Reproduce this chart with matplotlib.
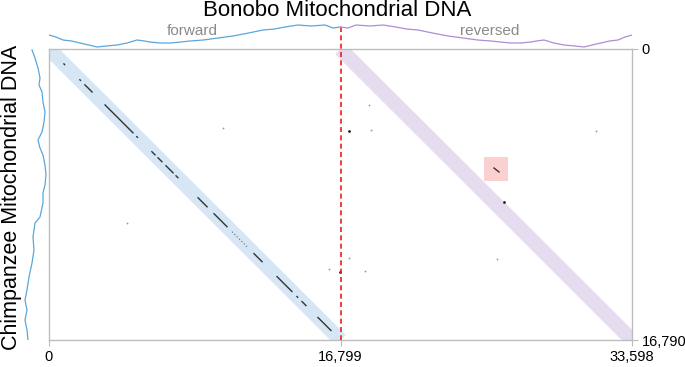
import matplotlib.pyplot as plt
from matplotlib.patches import Rectangle

plt.rcParams['font.family'] = ['Liberation Sans', 'DejaVu Sans']

bonobo_len = 33598
fwd_end = 16799
chimp_len = 16790

x_ticks = [0, 16799, 33598]
x_ticklabels = ["0", "16,799", "33,598"]
y_ticks = [0, 16790]
y_ticklabels = ["0", "16,790"]

# forward-strand hits on the main diagonal (start, end) in bp
fwd_hits = [(860, 900), (1780, 1810), (2070, 2480), (3230, 4840), (5060, 5100),
            (5930, 6110), (6280, 6510), (6740, 7150), (7320, 7430), (8590, 9110),
            (9510, 10260), (11810, 12280), (13140, 14000), (14290, 14330),
            (14580, 14810), (15500, 16250)]
faint_hits = [(10550, 11470)]

# off-diagonal dots (x bp, y bp, dark?)
dots_x = [10028, 4495, 17289, 18557, 26222, 16770, 16136, 17289, 18211, 25818, 31524, 18442]
dots_y = [4558, 10040, 4731, 4674, 8828, 12867, 12694, 12059, 12809, 12117, 4731, 3231]
dots_dark = [False, False, True, False, True, True, False, False, False, False, False, False]

# highlighted reversed hit
hl_x = [25645, 25933]
hl_y = [6866, 7097]
hl_box = (25069, 6232, 1383, 1384)

# top profile (bonobo), forward half
top_pos = [0, 400, 807, 1300, 1787, 2300, 2766, 3300, 3919, 4500, 5071, 5500, 5821,
           6400, 6973, 7600, 8126, 8900, 9740, 10600, 11500, 12333, 13000, 13601,
           14350, 15100, 15906, 16367, 16799]
top_val = [14, 12, 9, 8, 6, 4, 2, 3, 4, 6, 9, 8, 7, 6, 6, 7, 8, 9, 11, 13, 16, 19, 20,
           22, 24, 23, 24, 21, 22]

# left profile (chimpanzee)
left_pos = [58, 519, 1096, 1673, 2077, 2481, 3058, 3635, 4212, 4789, 5251, 5712, 6116,
            6693, 7270, 7847, 8309, 8886, 9694, 10040, 10848, 11598, 12348, 13156,
            13906, 14483, 15060, 15637, 16214, 16790]
left_val = [17, 14, 11, 9, 10, 7, 6, 4, 5, 7, 11, 9, 6, 4, 3, 4, 6, 6, 9, 14, 16, 15,
            17, 20, 22, 24, 22, 24, 22, 21]

W, H = 685, 367
fig = plt.figure(figsize=(W / 100, H / 100), dpi=100)

L, R, T, B = 49, 632, 49, 340
ax = fig.add_axes([L / W, 1 - B / H, (R - L) / W, (B - T) / H])
ax.set_xlim(0, bonobo_len)
ax.set_ylim(chimp_len, 0)

blue_band = '#d6e6f4'
purple_band = '#e5dcef'
ax.plot([0, fwd_end], [0, chimp_len], color=blue_band, lw=10.5, solid_capstyle='butt', zorder=1)
ax.plot([fwd_end, bonobo_len], [0, chimp_len], color=purple_band, lw=10.5, solid_capstyle='butt', zorder=1)

for s, e in fwd_hits:
    ax.plot([s, e], [s * chimp_len / fwd_end, e * chimp_len / fwd_end], color='#333333', lw=1.0, zorder=3)
for s, e in faint_hits:
    ax.plot([s, e], [s * chimp_len / fwd_end, e * chimp_len / fwd_end], color='#666666', lw=0.8,
            ls=(0, (1, 2)), zorder=3)

for x, y, d in zip(dots_x, dots_y, dots_dark):
    ax.plot(x, y, marker='o', ms=2.0 if d else 1.3, color='#222222' if d else '#999999', mew=0, zorder=3)

ax.add_patch(Rectangle(hl_box[:2], hl_box[2], hl_box[3], facecolor='#fbd0d0', edgecolor='none', zorder=2))
ax.plot(hl_x, hl_y, color='#333333', lw=1.0, zorder=3)

ax.plot([fwd_end, fwd_end], [-1270, chimp_len], color='#ee1c1c', lw=1.2, ls=(0, (3, 2)),
        clip_on=False, zorder=4)

for sp in ax.spines.values():
    sp.set_color('#bdbdbd')
    sp.set_linewidth(1)
ax.set_xticks(x_ticks)
ax.set_xticklabels(x_ticklabels, fontsize=10.5)
ax.yaxis.tick_right()
ax.set_yticks(y_ticks)
ax.set_yticklabels(y_ticklabels, fontsize=10.5)
ax.tick_params(length=4, color='#bdbdbd', pad=3)

# top profile
axt = fig.add_axes([L / W, 1 - 49 / H, (R - L) / W, 29 / H])
axt.set_xlim(0, bonobo_len)
axt.set_ylim(0, 29)
axt.plot(top_pos, top_val, color='#5aa6dc', lw=0.9)
axt.plot([bonobo_len - p for p in top_pos], top_val, color='#b08cd6', lw=0.9)
axt.axis('off')
axt.patch.set_alpha(0)

# left profile
axl = fig.add_axes([20 / W, 1 - B / H, 29 / W, (B - T) / H])
axl.set_xlim(29, 0)
axl.set_ylim(chimp_len, 0)
axl.plot(left_val, left_pos, color='#5aa6dc', lw=0.9)
axl.axis('off')
axl.patch.set_alpha(0)

fig.text(337 / W, 1 - 11 / H, "Bonobo Mitochondrial DNA", ha='center', va='center', fontsize=16)
fig.text(12 / W, 1 - 197 / H, "Chimpanzee Mitochondrial DNA", ha='center', va='center',
         rotation=90, fontsize=15.5)
fig.text(192 / W, 1 - 31 / H, "forward", ha='center', va='center', fontsize=11, color='#8a8a8a')
fig.text(490 / W, 1 - 31 / H, "reversed", ha='center', va='center', fontsize=11, color='#8a8a8a')

fig.savefig('out.png', dpi=100)
